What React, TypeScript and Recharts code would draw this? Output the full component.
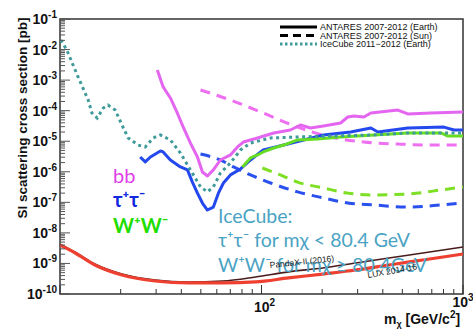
import { Line, LineChart, ReferenceArea, XAxis, YAxis } from "recharts";

type Pt = [number, number];

// [mass GeV, cross section pb]
const ICECUBE_EARTH: Pt[] = [
  [10.1, 2.06e-2], [10.8, 9.7e-3], [12.3, 1.26e-3], [13.8, 2.23e-4], [14.4, 8.4e-5],
  [15.3, 5.75e-5], [16.4, 1.22e-4], [17.3, 1.53e-4], [18.8, 1.05e-4], [20.3, 3.4e-5],
  [21.8, 1.28e-5], [24.4, 7.5e-6], [26.5, 6.5e-6], [29.0, 1.28e-5], [31.5, 1.6e-5],
  [35.3, 1.1e-5], [39.6, 4.1e-6], [44.4, 1.15e-6], [49.8, 3.2e-7], [53.9, 2.2e-7],
  [57.7, 3.2e-7], [62.5, 9.1e-7], [70.1, 1.94e-6], [78.7, 5.2e-6], [88.2, 8.7e-6],
  [111, 1.28e-5], [151, 1.38e-5], [220, 1.48e-5], [361, 1.6e-5], [532, 1.86e-5],
  [778, 1.86e-5], [1000, 1.86e-5],
];

const TAU_EARTH: Pt[] = [
  [25.0, 3.05e-6], [26.5, 2.1e-6], [28.1, 3.05e-6], [31.5, 4.8e-6], [32.5, 4.45e-6],
  [35.3, 2.43e-6], [39.6, 1.44e-6], [42.9, 1.15e-6], [45.4, 4.6e-7], [48.1, 2.0e-7],
  [50.9, 9.5e-8], [53.9, 5.6e-8], [57.7, 7.0e-8], [61.1, 2.0e-7], [64.7, 4.3e-7],
  [70.1, 7.9e-7], [78.7, 1.24e-6], [88.2, 2.43e-6], [102, 5.2e-6], [129, 7.5e-6],
  [162, 1.1e-5], [203, 1.6e-5], [277, 2.0e-5], [349, 2.7e-5], [378, 2.0e-5],
  [532, 2.7e-5], [804, 2.9e-5], [902, 2.33e-5], [1000, 2.33e-5],
];

const WW_EARTH: Pt[] = [
  [80.4, 1.44e-6], [88.2, 2.83e-6], [95.5, 3.55e-6], [102, 4.45e-6], [115, 6.0e-6],
  [129, 7.5e-6], [151, 1.1e-5], [190, 1.18e-5], [247, 1.38e-5], [532, 1.86e-5],
  [778, 1.86e-5], [841, 1.48e-5], [1000, 1.48e-5],
];

const BB_EARTH: Pt[] = [
  [30.4, 2.14e-3], [32.5, 6.0e-4], [35.3, 2.6e-4], [38.2, 8.4e-5], [40.9, 2.9e-5],
  [44.4, 8.7e-6], [48.1, 3.05e-6], [50.9, 9.8e-7], [53.9, 7.3e-7], [57.7, 1.15e-6],
  [62.5, 2.43e-6], [70.1, 3.55e-6], [76.0, 6.5e-6], [81.3, 9.4e-6], [95.5, 1.28e-5],
  [115, 1.86e-5], [139, 2.33e-5], [156, 3.4e-5], [175, 2.7e-5], [203, 3.15e-5],
  [247, 3.95e-5], [268, 6.2e-5], [287, 6.7e-5], [322, 6.2e-5], [349, 8.4e-5],
  [475, 1.05e-4], [532, 7.8e-5], [693, 8.4e-5], [1000, 9.1e-5],
];

const BB_SUN: Pt[] = [
  [49.8, 4.75e-4], [70.1, 2.23e-4], [102, 8.4e-5], [151, 2.9e-5], [220, 1.38e-5],
  [322, 9.4e-6], [475, 8.1e-6], [693, 7.5e-6], [1000, 7.5e-6],
];

const TAU_SUN: Pt[] = [
  [49.8, 3.8e-6], [62.5, 2.43e-6], [72.6, 1.44e-6], [88.2, 7.9e-7], [111, 4.3e-7],
  [151, 2.2e-7], [203, 1.39e-7], [268, 9.5e-8], [361, 8.2e-8], [532, 7.0e-8],
  [778, 8.2e-8], [1000, 9.5e-8],
];

const WW_SUN: Pt[] = [
  [101, 1.33e-6], [124, 7.9e-7], [151, 4.6e-7], [203, 2.95e-7], [268, 2.0e-7],
  [361, 1.74e-7], [532, 1.88e-7], [778, 2.54e-7], [1000, 3.2e-7],
];

const LUX: Pt[] = [
  [10, 4.0e-9], [11.9, 2.2e-9], [14.9, 8.9e-10], [20.3, 4.2e-10], [29.7, 2.67e-10],
  [43.4, 2.3e-10], [64.0, 2.3e-10], [93.3, 2.48e-10], [136, 3.35e-10], [201, 4.5e-10],
  [294, 6.1e-10], [429, 8.9e-10], [632, 1.3e-9], [1000, 2.04e-9],
];

const PANDAX: Pt[] = [
  [10, 4.2e-9], [11.9, 2.35e-9], [14.9, 9.6e-10], [20.3, 4.5e-10], [29.7, 2.85e-10],
  [43.4, 2.48e-10], [64.0, 2.67e-10], [93.3, 3.6e-10], [136, 5.3e-10], [201, 7.1e-10],
  [294, 1.04e-9], [429, 1.51e-9], [632, 2.2e-9], [1000, 3.46e-9],
];

const Y_DECADES = [-10, -9, -8, -7, -6, -5, -4, -3, -2];
const X_DECADES = [1, 2];
const MANTISSAS = [1, 2, 3, 4, 5, 6, 7, 8, 9];

const Y_TICKS = [...Y_DECADES.flatMap((e) => MANTISSAS.map((k) => k * 10 ** e)), 0.1];
const X_TICKS = [...X_DECADES.flatMap((e) => MANTISSAS.map((k) => k * 10 ** e)), 1000];

const W = 473;
const H = 329;
const PLOT_LEFT = 60;
const PLOT_RIGHT = 463;
const PLOT_TOP = 19;
const PLOT_BOTTOM = 294;
const FONT = "'Liberation Sans', Arial, sans-serif";
const NOTE_FONT = "Lato, 'Open Sans', sans-serif";

const toRows = (pts: Pt[]) => pts.map(([m, s]) => ({ m, s }));

const isDecade = (v: number) => Math.abs(Math.log10(v) - Math.round(Math.log10(v))) < 1e-6;

// log ticks point inward from the left frame edge, labels only on decades
const YTick = (props: any) => {
  const v = props.payload.value;
  const y = props.y;
  const major = isDecade(v);
  const exp = Math.round(Math.log10(v));
  return (
    <g>
      <line x1={PLOT_LEFT} x2={PLOT_LEFT + (major ? 10 : 5)} y1={y} y2={y} stroke="#555" strokeWidth={1} />
      {major && (
        <text x={57} y={y + 5} textAnchor="end" fontFamily={FONT} fontWeight="bold" fontSize={14} fill="#111">
          10
          <tspan dy={-6} fontSize={10}>
            {`-${-exp}`}
          </tspan>
        </text>
      )}
    </g>
  );
};

const XTick = (props: any) => {
  const v = props.payload.value;
  const x = props.x;
  const major = isDecade(v);
  const exp = Math.round(Math.log10(v));
  return (
    <g>
      <line x1={x} x2={x} y1={PLOT_BOTTOM} y2={PLOT_BOTTOM - (major ? 9 : 5)} stroke="#333" strokeWidth={1} />
      {major && exp > 1 && (
        <text
          x={exp === 3 ? x : x + 3}
          y={exp === 3 ? 307 : 312}
          textAnchor="middle"
          fontFamily={FONT}
          fontWeight="bold"
          fontSize={14}
          fill="#111"
        >
          10
          <tspan dy={-6} fontSize={10}>
            {exp}
          </tspan>
        </text>
      )}
    </g>
  );
};

const solid = (key: string, pts: Pt[], color: string) => (
  <Line
    key={key}
    data={toRows(pts)}
    dataKey="s"
    dot={false}
    isAnimationActive={false}
    stroke={color}
    strokeWidth={3}
    strokeLinejoin="round"
    type="linear"
  />
);

const dashed = (key: string, pts: Pt[], color: string) => (
  <Line
    key={key}
    data={toRows(pts)}
    dataKey="s"
    dot={false}
    isAnimationActive={false}
    stroke={color}
    strokeWidth={3}
    strokeDasharray="10 7"
    type="monotone"
  />
);

export default function App() {
  return (
    <div style={{ position: "relative", width: W, height: H, background: "#fff" }}>
      <style>{"body{margin:0;background:#fff}"}</style>
      <LineChart width={W} height={H} margin={{ top: PLOT_TOP, right: W - PLOT_RIGHT, left: 0, bottom: 0 }}>
        <XAxis
          allowDataOverflow
          axisLine={false}
          dataKey="m"
          domain={[10, 1000]}
          height={H - PLOT_BOTTOM}
          interval={0}
          scale="log"
          tick={<XTick />}
          tickLine={false}
          ticks={X_TICKS}
          type="number"
        />
        <YAxis
          allowDataOverflow
          axisLine={false}
          domain={[1e-10, 0.1]}
          interval={0}
          scale="log"
          tick={<YTick />}
          tickLine={false}
          ticks={Y_TICKS}
          type="number"
          width={PLOT_LEFT}
        />
        <Line data={toRows(PANDAX)} dataKey="s" dot={false} isAnimationActive={false} stroke="#4a1c1c" strokeWidth={1.6} type="monotone" />
        <Line data={toRows(LUX)} dataKey="s" dot={false} isAnimationActive={false} stroke="#ee4030" strokeWidth={3.2} type="monotone" />
        {dashed("bbSun", BB_SUN, "#ee6ff0")}
        {dashed("wwSun", WW_SUN, "#7ee024")}
        {dashed("tauSun", TAU_SUN, "#2a50ee")}
        {solid("bb", BB_EARTH, "#e466f0")}
        {solid("tau", TAU_EARTH, "#2349ee")}
        {solid("ww", WW_EARTH, "#66dd22")}
        <Line
          data={toRows(ICECUBE_EARTH)}
          dataKey="s"
          dot={false}
          isAnimationActive={false}
          stroke="#3f9a9a"
          strokeWidth={3}
          strokeDasharray="3 3.5"
          type="linear"
        />
        <ReferenceArea x1={10} x2={1000} y1={1e-10} y2={0.1} fill="none" stroke="#333" strokeWidth={1.5} ifOverflow="visible" />
      </LineChart>

      <svg width={W} height={H} style={{ position: "absolute", left: 0, top: 0, pointerEvents: "none" }}>
        <text
          transform="rotate(-90)"
          x={-118}
          y={27}
          textAnchor="middle"
          fontFamily={FONT}
          fontWeight="bold"
          fontSize={13.5}
          fill="#111"
        >
          SI scattering cross section [pb]
        </text>
        <text x={384} y={324} fontFamily={FONT} fontWeight="bold" fontSize={14} fill="#111">
          m
          <tspan dy={3} fontSize={9}>
            χ
          </tspan>
          <tspan dy={-3}> [GeV/c</tspan>
          <tspan dy={-6} fontSize={10}>
            2
          </tspan>
          <tspan dy={6}>]</tspan>
        </text>

        {/* legend */}
        <g fontFamily={FONT} fontSize={9} fill="#111">
          <line x1={280} x2={317} y1={27} y2={27} stroke="#000" strokeWidth={3} />
          <line x1={280} x2={317} y1={35.5} y2={35.5} stroke="#000" strokeWidth={3} strokeDasharray="8 5" />
          <line x1={280} x2={317} y1={44} y2={44} stroke="#3f9a9a" strokeWidth={3} strokeDasharray="2.5 2.5" />
          <text x={320} y={30}>ANTARES 2007-2012 (Earth)</text>
          <text x={320} y={38.5}>ANTARES 2007-2012 (Sun)</text>
          <text x={320} y={47}>IceCube 2011−2012 (Earth)</text>
        </g>

        {/* channel labels */}
        <text x={113} y={183} fontFamily={NOTE_FONT} fontSize={20} fill="#e040e8">
          bb
        </text>
        <text x={113} y={207} fontFamily={NOTE_FONT} fontWeight="bold" fontSize={20} fill="#1028e0">
          τ⁺τ⁻
        </text>
        <text x={113} y={233} fontFamily={NOTE_FONT} fontWeight="bold" fontSize={20} fill="#22dd00">
          W⁺W⁻
        </text>

        <g fontFamily={NOTE_FONT} fontSize={19.5} fill="#4aa3c4">
          <text x={218} y={223}>IceCube:</text>
          <text x={218} y={247}>τ⁺τ⁻ for mχ &lt; 80.4 GeV</text>
          <text x={218} y={272}>W⁺W⁻ for mχ ≥ 80.4GeV</text>
        </g>

        <text x={270} y={268} transform="rotate(-6 270 268)" fontFamily={FONT} fontSize={8.5} fill="#222">
          PandaX-II (2016)
        </text>
        <text x={368} y={278} transform="rotate(-10 368 278)" fontFamily={FONT} fontSize={8.5} fill="#222">
          LUX 2014-16
        </text>
      </svg>
    </div>
  );
}
